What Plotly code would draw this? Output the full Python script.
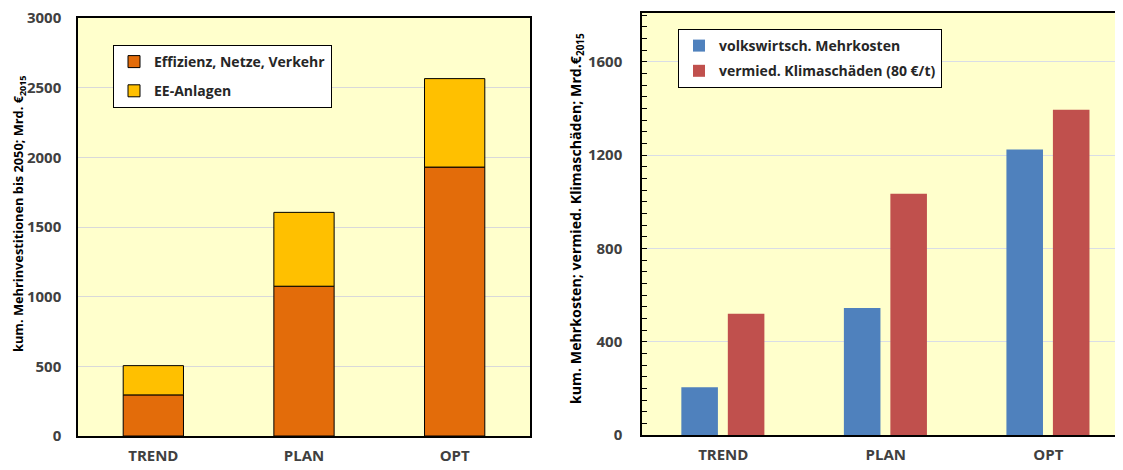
import plotly.graph_objects as go

categories = ["TREND", "PLAN", "OPT"]
# left chart: cumulative extra investments until 2050 (Mrd. €2015)
effizienz = [295, 1075, 1930]
ee_anlagen = [210, 530, 635]
# right chart
mehrkosten = [205, 545, 1225]
klimaschaeden = [520, 1035, 1395]

OFF = 8  # page body margin in the browser
W, H = 1123 - 2 * OFF, 470 - 2 * OFF
FONT = "Open Sans"
TICKCOL = "#404040"
BG = "#FFFFCC"
GRID = "#D9D9D9"

def px_x(p):
    return (p - OFF) / W

def px_y(p):
    return 1 - (p - OFF) / H

fig = go.Figure()

fig.add_trace(go.Bar(
    x=categories, y=effizienz, name="Effizienz, Netze, Verkehr",
    marker=dict(color="#E36C0A", line=dict(color="#000000", width=1)),
    width=0.4, offset=-0.2, xaxis="x", yaxis="y",
    legend="legend", legendgroup="a"))
fig.add_trace(go.Bar(
    x=categories, y=ee_anlagen, base=effizienz, name="EE-Anlagen",
    marker=dict(color="#FFC000", line=dict(color="#000000", width=1)),
    width=0.4, offset=-0.2, xaxis="x", yaxis="y",
    legend="legend", legendgroup="b"))

fig.add_trace(go.Bar(
    x=categories, y=mehrkosten, name="volkswirtsch. Mehrkosten",
    marker=dict(color="#4F81BD", line=dict(width=0)),
    width=0.225, offset=-0.258, xaxis="x2", yaxis="y2",
    legend="legend2", legendgroup="c"))
fig.add_trace(go.Bar(
    x=categories, y=klimaschaeden, name="vermied. Klimaschäden (80 €/t)",
    marker=dict(color="#C0504D", line=dict(width=0)),
    width=0.225, offset=0.028, xaxis="x2", yaxis="y2",
    legend="legend2", legendgroup="d"))

tickfont = dict(family=FONT, size=15, color=TICKCOL, weight="bold")
xtickfont = dict(family=FONT, size=15, color=TICKCOL, weight="bold")
legfont = dict(family=FONT, size=14, color="#262626", weight="bold")

fig.update_layout(
    template="none",
    width=W, height=H,
    margin=dict(l=0, r=0, t=0, b=0, autoexpand=False),
    paper_bgcolor="white",
    plot_bgcolor=BG,
    barmode="overlay",
    font=dict(family=FONT),
    showlegend=True,
    xaxis=dict(
        domain=[px_x(78), px_x(530)], anchor="y", automargin=False,
        range=[-0.5, 2.5], type="category",
        showline=True, linecolor="black", linewidth=2, mirror=True,
        ticks="", tickfont=xtickfont, ticklabelstandoff=5,
        ticklabeloverflow="allow",
        showgrid=False, zeroline=False, fixedrange=True),
    yaxis=dict(
        domain=[px_y(436), px_y(18)], anchor="x", automargin=False,
        range=[0, 3000], dtick=500, tick0=0,
        showline=True, linecolor="black", linewidth=1.5, mirror=True,
        ticks="", tickfont=tickfont, ticklabelstandoff=12,
        ticklabeloverflow="allow",
        showgrid=True, gridcolor=GRID, gridwidth=1,
        zeroline=False),
    xaxis2=dict(
        domain=[px_x(642), 1.0], anchor="y2", automargin=False,
        range=[-0.5, 2.41], type="category",
        showline=True, linecolor="black", linewidth=2, mirror=True,
        ticks="", tickfont=xtickfont, ticklabelstandoff=5,
        ticklabeloverflow="allow",
        showgrid=False, zeroline=False),
    yaxis2=dict(
        domain=[px_y(435), px_y(13)], anchor="x2", automargin=False,
        range=[0, 1810], dtick=400, tick0=0,
        showline=True, linecolor="black", linewidth=1.5, mirror=False,
        ticks="inside", ticklen=5, tickcolor="black", tickwidth=1,
        minor=dict(dtick=50, ticks="inside", ticklen=5, tickcolor="black",
                   tickwidth=1, showgrid=False),
        tickfont=tickfont, ticklabelstandoff=15,
        ticklabeloverflow="allow",
        showgrid=True, gridcolor="#D9DDE6", gridwidth=1,
        zeroline=False),
    legend=dict(
        x=px_x(113), y=px_y(45), xanchor="left", yanchor="top",
        bgcolor="white", bordercolor="black", borderwidth=1,
        font=legfont,
        traceorder="grouped", tracegroupgap=8, itemclick=False),
    legend2=dict(
        x=px_x(678), y=px_y(29), xanchor="left", yanchor="top",
        bgcolor="white", bordercolor="black", borderwidth=1,
        font=legfont,
        traceorder="grouped", tracegroupgap=4, itemclick=False),
    annotations=[
        dict(text="kum. Mehrinvestitionen bis 2050; Mrd. €<sub>2015</sub>",
             x=px_x(19), y=px_y(214), xref="paper", yref="paper",
             xanchor="center", yanchor="middle",
             textangle=-90, showarrow=False,
             font=dict(family=FONT, size=12.8, color="black", weight="bold")),
        dict(text="kum. Mehrkosten; vermied. Klimaschäden; Mrd.€<sub>2015</sub>",
             x=px_x(577), y=px_y(219), xref="paper", yref="paper",
             xanchor="center", yanchor="middle",
             textangle=-90, showarrow=False,
             font=dict(family=FONT, size=14.2, color="black", weight="bold")),
    ],
)

fig.write_html("out.html")
